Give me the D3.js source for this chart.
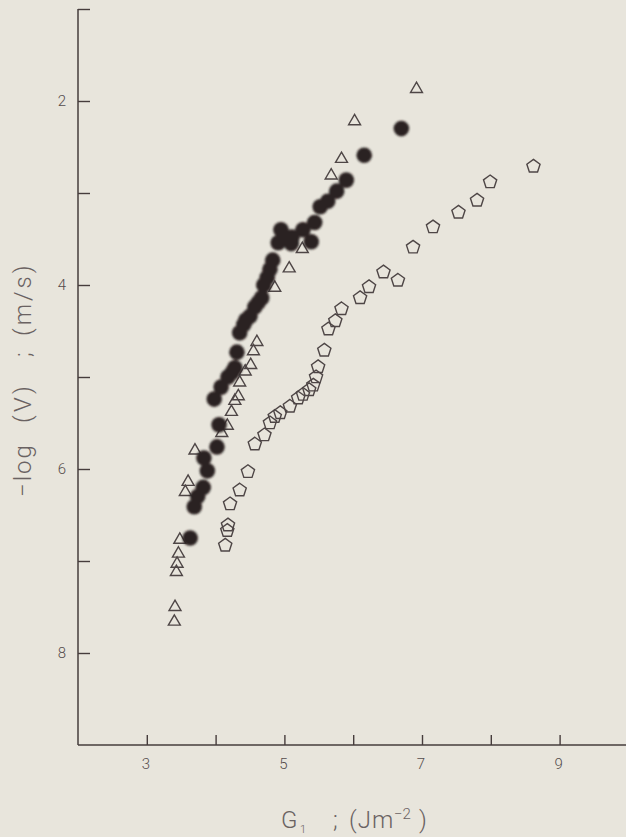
<!DOCTYPE html>
<html>
<head>
<meta charset="utf-8">
<script src="https://cdn.jsdelivr.net/npm/d3@7"></script>
<style>
  html, body { margin: 0; padding: 0; background: #e8e5dc; }
  svg { display: block; }
</style>
</head>
<body>
<svg id="chart" width="626" height="837"></svg>
<script>
// G1 (J m^-2) versus -log V (m/s) for three crack-growth series

// Series A: filled circles
const circleG = [3.63, 3.69, 3.74, 3.82, 3.88, 3.83, 4.02, 4.05, 3.98, 4.08, 4.18, 4.24, 4.28, 4.31,
  4.35, 4.41, 4.44, 4.50, 4.57, 4.62, 4.67, 4.70, 4.75, 4.79, 4.83, 4.95, 4.91, 5.02, 5.11, 5.10,
  5.27, 5.39, 5.44, 5.52, 5.63, 5.76, 5.90, 6.16, 6.70];
const circleV = [6.75, 6.41, 6.30, 6.20, 6.02, 5.88, 5.76, 5.52, 5.24, 5.11, 5.00, 4.95, 4.90, 4.73,
  4.52, 4.43, 4.38, 4.34, 4.24, 4.19, 4.14, 4.00, 3.92, 3.83, 3.73, 3.40, 3.54, 3.48, 3.48, 3.55,
  3.40, 3.53, 3.32, 3.15, 3.09, 2.98, 2.86, 2.59, 2.30];

// Series B: open triangles
const triangleG = [6.92, 6.02, 5.83, 5.68, 5.26, 5.07, 4.86, 4.60, 4.55, 4.51, 4.43, 4.35, 4.33,
  4.28, 4.23, 4.17, 4.09, 3.70, 3.60, 3.56, 3.48, 3.46, 3.44, 3.43, 3.41, 3.40];
const triangleV = [1.87, 2.22, 2.63, 2.81, 3.61, 3.82, 4.03, 4.62, 4.72, 4.87, 4.94, 5.06, 5.21,
  5.26, 5.38, 5.53, 5.61, 5.80, 6.14, 6.25, 6.77, 6.92, 7.03, 7.12, 7.50, 7.66];

// Series C: open pentagons
const pentagonG = [8.62, 7.99, 7.80, 7.53, 7.16, 6.87, 6.44, 6.65, 6.23, 6.10, 5.83, 5.74, 5.64,
  5.58, 5.49, 5.46, 5.42, 5.36, 5.27, 5.20, 5.08, 4.94, 4.86, 4.79, 4.71, 4.57, 4.47, 4.35, 4.21,
  4.18, 4.17, 4.14];
const pentagonV = [2.71, 2.88, 3.08, 3.21, 3.37, 3.59, 3.86, 3.95, 4.02, 4.14, 4.26, 4.39, 4.48,
  4.71, 4.89, 5.00, 5.09, 5.14, 5.19, 5.23, 5.32, 5.39, 5.43, 5.50, 5.63, 5.73, 6.03, 6.23, 6.38,
  6.61, 6.67, 6.83];

// Axis ticks and labels
const xTicks = [3, 4, 5, 6, 7, 8, 9];
const xLabels = [3, 5, 7, 9];
const yTicks = [1, 2, 3, 4, 5, 6, 7, 8];
const yLabels = [2, 4, 6, 8];

const svg = d3.select("#chart");
const ink = "#463c3c";
const titleFont = "Roboto, 'Liberation Sans', sans-serif";

const x = d3.scaleLinear().domain([2, 10]).range([78, 628.4]);
const y = d3.scaleLinear().domain([1, 9]).range([9, 745]);

svg.append("rect").attr("width", 626).attr("height", 837).attr("fill", "#e8e5dc");

const defs = svg.append("defs");
defs.append("filter").attr("id", "soft")
  .append("feGaussianBlur").attr("stdDeviation", 0.8);

// Axes
const xAxis = d3.axisTop(x).tickValues(xTicks).tickSize(10).tickFormat("");
const gx = svg.append("g").attr("transform", `translate(0,${y(9)})`).call(xAxis);
gx.select(".domain").attr("d", `M${x(2)},0H626`);

const yAxis = d3.axisRight(y).tickValues(yTicks).tickSize(12).tickFormat("");
const gy = svg.append("g").attr("transform", `translate(${x(2)},0)`).call(yAxis);
gy.select(".domain").attr("d", `M0,${y(1)}V${y(9)}`);

svg.selectAll(".domain").attr("stroke", ink).attr("stroke-width", 1.5);
svg.selectAll(".tick line").attr("stroke", ink).attr("stroke-width", 1.4);

// Tick labels
svg.append("g").selectAll("text").data(xLabels).join("text")
  .attr("x", d => x(d) - 1).attr("y", y(9) + 24)
  .attr("text-anchor", "middle")
  .attr("font-family", titleFont).attr("font-weight", 300)
  .attr("font-size", 15).attr("fill", "#554c4c")
  .text(d => d);

svg.append("g").selectAll("text").data(yLabels).join("text")
  .attr("x", x(2) - 16).attr("y", d => y(d) + 5)
  .attr("text-anchor", "middle")
  .attr("font-family", titleFont).attr("font-weight", 300)
  .attr("font-size", 15).attr("fill", "#554c4c")
  .text(d => d);

// Axis titles
const xt = svg.append("text")
  .attr("y", 828)
  .attr("font-family", titleFont).attr("font-weight", 300)
  .attr("font-size", 24).attr("fill", "#6a6262");
xt.append("tspan").attr("x", 281).text("G");
xt.append("tspan").attr("x", 300).attr("dy", 5).attr("font-size", 11).text("1");
xt.append("tspan").attr("x", 333).attr("dy", -5).text(";");
xt.append("tspan").attr("x", 349).attr("letter-spacing", 1).text("(Jm");
xt.append("tspan").attr("x", 394).attr("dy", -9).attr("font-size", 15).text("−2");
xt.append("tspan").attr("x", 419).attr("dy", 9).text(")");

const yt = svg.append("text")
  .attr("transform", "translate(31,0) rotate(-90)")
  .attr("font-family", titleFont).attr("font-weight", 300)
  .attr("font-size", 24).attr("fill", "#6a6262");
yt.append("tspan").attr("x", -497).attr("letter-spacing", 2).text("−log");
yt.append("tspan").attr("x", -423).attr("letter-spacing", 3).text("(V)");
yt.append("tspan").attr("x", -357).text(";");
yt.append("tspan").attr("x", -336).attr("letter-spacing", 3).text("(m/s)");

// Marks
const pentagon = d3.symbol().type({
  draw(ctx, size) {
    const r = Math.sqrt(size / 2.3776);
    for (let i = 0; i < 5; i++) {
      const a = -Math.PI / 2 + i * 2 * Math.PI / 5;
      const px = r * Math.cos(a), py = r * Math.sin(a);
      if (i === 0) ctx.moveTo(px, py); else ctx.lineTo(px, py);
    }
    ctx.closePath();
  }
}).size(115);

svg.append("g").selectAll("path").data(d3.range(pentagonG.length)).join("path")
  .attr("transform", i => `translate(${x(pentagonG[i])},${y(pentagonV[i])})`)
  .attr("d", pentagon)
  .attr("fill", "none").attr("stroke", "#4e4646").attr("stroke-width", 1.4);

const triangle = d3.symbol().type(d3.symbolTriangle).size(62);
svg.append("g").selectAll("path").data(d3.range(triangleG.length)).join("path")
  .attr("transform", i => `translate(${x(triangleG[i])},${y(triangleV[i])})`)
  .attr("d", triangle)
  .attr("fill", "none").attr("stroke", "#4e4646").attr("stroke-width", 1.4);

svg.append("g").attr("filter", "url(#soft)")
  .selectAll("circle").data(d3.range(circleG.length)).join("circle")
  .attr("cx", i => x(circleG[i])).attr("cy", i => y(circleV[i]))
  .attr("r", 7.8)
  .attr("fill", "#2c2222");
</script>
</body>
</html>
